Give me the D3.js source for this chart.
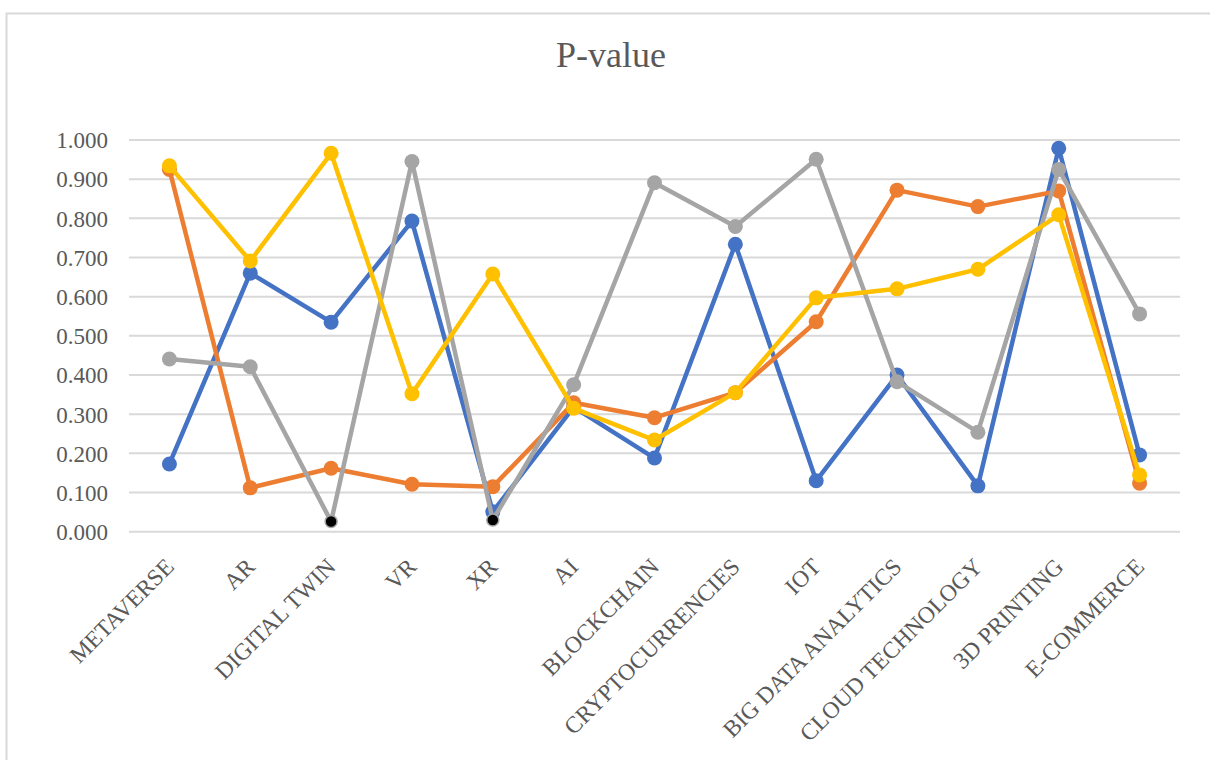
<!DOCTYPE html>
<html>
<head>
<meta charset="utf-8">
<script src="https://cdn.jsdelivr.net/npm/d3@7"></script>
<style>
  body { margin: 0; background: #fff; }
  svg text { font-family: "Liberation Serif", "Times New Roman", serif !important; fill: #595959; }
</style>
</head>
<body>
<div id="chart"></div>
<script>
var categories = ["METAVERSE", "AR", "DIGITAL TWIN", "VR", "XR", "AI", "BLOCKCHAIN",
  "CRYPTOCURRENCIES", "IOT", "BIG DATA ANALYTICS", "CLOUD TECHNOLOGY", "3D PRINTING", "E-COMMERCE"];

var blueValues   = [0.173, 0.660, 0.535, 0.793, 0.051, 0.318, 0.188, 0.734, 0.130, 0.400, 0.117, 0.979, 0.196];
var orangeValues = [0.925, 0.112, 0.162, 0.121, 0.115, 0.329, 0.291, 0.355, 0.536, 0.872, 0.830, 0.870, 0.124];
var grayValues   = [0.441, 0.421, 0.026, 0.945, 0.030, 0.375, 0.891, 0.779, 0.951, 0.383, 0.254, 0.925, 0.556];
var yellowValues = [0.934, 0.691, 0.966, 0.352, 0.658, 0.315, 0.234, 0.355, 0.597, 0.620, 0.670, 0.809, 0.145];

var yTicks = [0, 0.1, 0.2, 0.3, 0.4, 0.5, 0.6, 0.7, 0.8, 0.9, 1.0];

var series = [
  { name: "s1", color: "#4472C4", values: blueValues },
  { name: "s2", color: "#ED7D31", values: orangeValues },
  { name: "s3", color: "#A5A5A5", values: grayValues },
  { name: "s4", color: "#FFC000", values: yellowValues }
];

var w = 1210, h = 760;
var svg = d3.select("#chart").append("svg").attr("width", w).attr("height", h);

// chart frame (runs off the bottom/right of the picture)
svg.append("rect").attr("x", 6.5).attr("y", 13.5).attr("width", w).attr("height", h)
  .attr("fill", "none").attr("stroke", "#d9d9d9").attr("stroke-width", 2);

var x = d3.scalePoint().domain(categories).range([129, 1180]).padding(0.5);
var y = d3.scaleLinear().domain([0, 1]).range([531.7, 140]);

svg.append("text").attr("x", 611).attr("y", 67).attr("text-anchor", "middle")
  .style("font-size", "36px").text("P-value");

// gridlines
svg.append("g").selectAll("line").data(yTicks).enter().append("line")
  .attr("x1", 129).attr("x2", 1180)
  .attr("y1", function(d) { return y(d); }).attr("y2", function(d) { return y(d); })
  .attr("stroke", "#d9d9d9").attr("stroke-width", 2);

// y axis labels
var yAxis = d3.axisLeft(y).tickValues(yTicks).tickFormat(d3.format(".3f")).tickSize(0).tickPadding(0);
var gy = svg.append("g").attr("transform", "translate(108,0)").call(yAxis)
  .attr("font-family", null).attr("font-size", null);
gy.select(".domain").remove();
gy.selectAll("text").style("font-size", "23px").attr("fill", "#595959").attr("dy", "0.34em");

// x labels, rotated
var xAxis = d3.axisBottom(x).tickSize(0).tickPadding(0);
var gx = svg.append("g").attr("transform", "translate(0," + y(0) + ")").call(xAxis)
  .attr("font-family", null).attr("font-size", null);
gx.select(".domain").remove();
gx.selectAll(".tick text")
  .style("font-size", "23.5px").attr("fill", "#595959")
  .attr("text-anchor", "end")
  .attr("y", 0).attr("dy", "0.33em")
  .attr("transform", "translate(0,31) rotate(-45)");

var line = d3.line()
  .x(function(d, i) { return x(categories[i]); })
  .y(function(d) { return y(d); });

series.forEach(function(s) {
  var g = svg.append("g");
  g.append("path").datum(s.values).attr("d", line)
    .attr("fill", "none").attr("stroke", s.color).attr("stroke-width", 4.5)
    .attr("stroke-linejoin", "round");
  g.selectAll("circle").data(s.values).enter().append("circle")
    .attr("cx", function(d, i) { return x(categories[i]); })
    .attr("cy", function(d) { return y(d); })
    .attr("r", function(d) { return (s.name == "s3" && d < 0.05) ? 6 : 7.5; })
    .attr("fill", function(d) { return (s.name == "s3" && d < 0.05) ? "#000" : s.color; })
    .attr("stroke", function(d) { return (s.name == "s3" && d < 0.05) ? s.color : "none"; })
    .attr("stroke-width", 1.5);
});
</script>
</body>
</html>
